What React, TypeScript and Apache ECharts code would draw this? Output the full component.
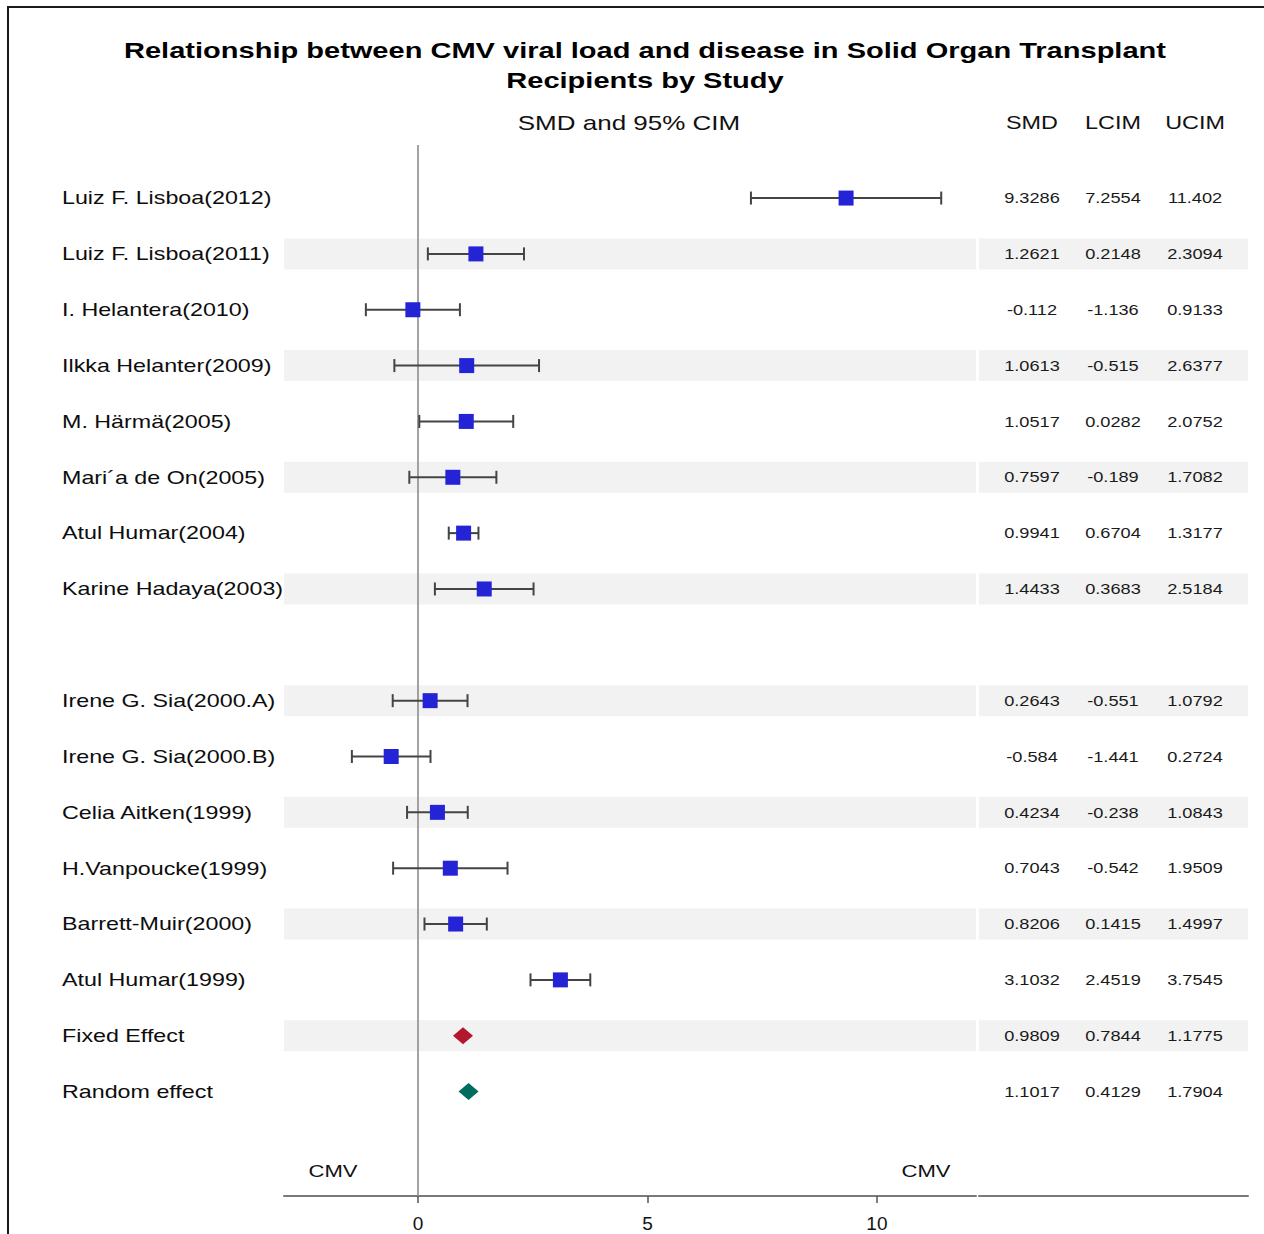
import React, { useEffect, useRef } from 'react';
import * as echarts from 'echarts';

// ---------- data ----------
const studies = [
  'Luiz F. Lisboa(2012)',
  'Luiz F. Lisboa(2011)',
  'I. Helantera(2010)',
  'Ilkka Helanter(2009)',
  'M. Härmä(2005)',
  'Mari´a de On(2005)',
  'Atul Humar(2004)',
  'Karine Hadaya(2003)',
  'Irene G. Sia(2000.A)',
  'Irene G. Sia(2000.B)',
  'Celia Aitken(1999)',
  'H.Vanpoucke(1999)',
  'Barrett-Muir(2000)',
  'Atul Humar(1999)',
];
const smd = [9.3286, 1.2621, -0.112, 1.0613, 1.0517, 0.7597, 0.9941, 1.4433, 0.2643, -0.584, 0.4234, 0.7043, 0.8206, 3.1032];
const lcim = [7.2554, 0.2148, -1.136, -0.515, 0.0282, -0.189, 0.6704, 0.3683, -0.551, -1.441, -0.238, -0.542, 0.1415, 2.4519];
const ucim = [11.402, 2.3094, 0.9133, 2.6377, 2.0752, 1.7082, 1.3177, 2.5184, 1.0792, 0.2724, 1.0843, 1.9509, 1.4997, 3.7545];
const studyRows = [0, 1, 2, 3, 4, 5, 6, 7, 9, 10, 11, 12, 13, 14];

const pooledNames = ['Fixed Effect', 'Random effect'];
const pooledSmd = [0.9809, 1.1017];
const pooledL = [0.7844, 0.4129];
const pooledU = [1.1775, 1.7904];
const pooledRows = [15, 16];
const pooledColors = ['#b3172e', '#006b5e'];

const stripeRows = [1, 3, 5, 7, 9, 11, 13, 15];
const xTicks = [0, 5, 10];
const tableHeaders = ['SMD', 'LCIM', 'UCIM'];
const titleText = 'Relationship between CMV viral load and disease in Solid Organ Transplant\nRecipients by Study';
const plotHeader = 'SMD and 95% CIM';
const sideLabel = 'CMV';

// ---------- layout / style constants ----------
const FONT = '"Liberation Sans", Arial, Helvetica, sans-serif';
const SX = 1.3; // horizontal stretch of the reference text
const Y_MIN = -0.95;
const Y_MAX = 17.87;
const X_MIN = -2.92;
const X_MAX = 12.16;
const COL_POS = [0.197, 0.498, 0.803];

const allNames = [...studies, ...pooledNames];
const allRows = [...studyRows, ...pooledRows];
const allSmd = [...smd, ...pooledSmd];
const allL = [...lcim, ...pooledL];
const allU = [...ucim, ...pooledU];

function textEl(x: number, y: number, text: string, size: number, align: string, opts: any = {}) {
  return {
    type: 'text',
    x,
    y,
    scaleX: opts.scaleX ?? SX,
    silent: true,
    style: {
      text,
      fill: opts.fill ?? '#111',
      fontSize: size,
      fontFamily: FONT,
      fontWeight: opts.fontWeight ?? 'normal',
      lineHeight: opts.lineHeight,
      align,
      verticalAlign: 'middle',
      textAlign: align,
      textVerticalAlign: 'middle',
    },
  };
}

export default function App() {
  const ref = useRef<HTMLDivElement>(null);

  useEffect(() => {
    if (!ref.current) return;
    const chart = echarts.init(ref.current, null, { renderer: 'svg' });

    const yAxisBase = {
      type: 'value',
      min: Y_MIN,
      max: Y_MAX,
      inverse: true,
      show: false,
      splitLine: { show: false },
    };

    const option: any = {
      animation: false,
      backgroundColor: '#ffffff',
      grid: [
        { left: 284, top: 145, width: 692, height: 1051 },
        { left: 979, top: 145, width: 269, height: 1051 },
      ],
      xAxis: [
        {
          type: 'value',
          gridIndex: 0,
          min: X_MIN,
          max: X_MAX,
          splitLine: { show: false },
          axisLine: { show: true, onZero: false, lineStyle: { color: '#7a7a7a', width: 2 } },
          axisTick: { show: true, customValues: xTicks, length: 7, lineStyle: { color: '#555', width: 1.5 } },
          axisLabel: {
            show: true,
            customValues: xTicks,
            margin: 18,
            fontSize: 19,
            color: '#111',
            fontFamily: FONT,
          },
        },
        {
          type: 'value',
          gridIndex: 1,
          min: 0,
          max: 1,
          splitLine: { show: false },
          axisLine: { show: true, onZero: false, lineStyle: { color: '#7a7a7a', width: 2 } },
          axisTick: { show: false },
          axisLabel: { show: false },
        },
      ],
      yAxis: [
        { ...yAxisBase, gridIndex: 0 },
        { ...yAxisBase, gridIndex: 1 },
      ],
      graphic: [
        {
          type: 'rect',
          silent: true,
          shape: { x: 8, y: 7, width: 1400, height: 1400 },
          style: { fill: 'none', stroke: '#1a1a1a', lineWidth: 2 },
        },
        textEl(645, 65, titleText, 22, 'center', { fontWeight: 'bold', lineHeight: 30, scaleX: 1.32, fill: '#000' }),
        textEl(629, 123, plotHeader, 20, 'center'),
        ...tableHeaders.map((h, k) => textEl(979 + COL_POS[k] * 269, 123, h, 18, 'center')),
        textEl(333, 1171, sideLabel, 17, 'center'),
        textEl(926, 1171, sideLabel, 17, 'center'),
      ],
      series: [
        // stripes in plot area
        {
          type: 'custom',
          xAxisIndex: 0,
          yAxisIndex: 0,
          z: 1,
          silent: true,
          data: stripeRows.map((r) => [0, r]),
          encode: { x: 0, y: 1 },
          renderItem: (params: any, api: any) => {
            const cs = params.coordSys;
            const y = api.coord([0, api.value(1)])[1];
            return {
              type: 'rect',
              shape: { x: cs.x, y: y - 15.5, width: cs.width, height: 31 },
              style: { fill: '#f2f2f2' },
            };
          },
        },
        // stripes in table area
        {
          type: 'custom',
          xAxisIndex: 1,
          yAxisIndex: 1,
          z: 1,
          silent: true,
          data: stripeRows.map((r) => [0.5, r]),
          encode: { x: 0, y: 1 },
          renderItem: (params: any, api: any) => {
            const cs = params.coordSys;
            const y = api.coord([0.5, api.value(1)])[1];
            return {
              type: 'rect',
              shape: { x: cs.x, y: y - 15.5, width: cs.width, height: 31 },
              style: { fill: '#f2f2f2' },
            };
          },
        },
        // zero reference line
        {
          type: 'custom',
          xAxisIndex: 0,
          yAxisIndex: 0,
          z: 2,
          silent: true,
          data: [[0, Y_MIN, Y_MAX]],
          encode: { x: 0, y: [1, 2] },
          renderItem: (params: any, api: any) => {
            const p1 = api.coord([api.value(0), api.value(1)]);
            const p2 = api.coord([api.value(0), api.value(2)]);
            return {
              type: 'line',
              shape: { x1: p1[0], y1: p1[1], x2: p2[0], y2: p2[1] },
              style: { stroke: '#8c8c8c', lineWidth: 1.6 },
            };
          },
        },
        // confidence intervals
        {
          type: 'custom',
          xAxisIndex: 0,
          yAxisIndex: 0,
          z: 3,
          silent: true,
          data: studyRows.map((r, i) => [lcim[i], r, ucim[i]]),
          encode: { x: [0, 2], y: 1 },
          renderItem: (params: any, api: any) => {
            const a = api.coord([api.value(0), api.value(1)]);
            const b = api.coord([api.value(2), api.value(1)]);
            const st = { stroke: '#444', lineWidth: 2 };
            return {
              type: 'group',
              children: [
                { type: 'line', shape: { x1: a[0], y1: a[1], x2: b[0], y2: b[1] }, style: st },
                { type: 'line', shape: { x1: a[0], y1: a[1] - 6.5, x2: a[0], y2: a[1] + 6.5 }, style: st },
                { type: 'line', shape: { x1: b[0], y1: b[1] - 6.5, x2: b[0], y2: b[1] + 6.5 }, style: st },
              ],
            };
          },
        },
        // point estimates
        {
          type: 'scatter',
          xAxisIndex: 0,
          yAxisIndex: 0,
          z: 4,
          silent: true,
          symbol: 'rect',
          symbolSize: 15,
          itemStyle: { color: '#2424d6', opacity: 1 },
          data: studyRows.map((r, i) => [smd[i], r]),
        },
        // pooled estimates
        {
          type: 'scatter',
          xAxisIndex: 0,
          yAxisIndex: 0,
          z: 4,
          silent: true,
          symbol: 'diamond',
          symbolSize: [20, 17],
          itemStyle: { opacity: 1 },
          data: pooledRows.map((r, i) => ({ value: [pooledSmd[i], r], itemStyle: { color: pooledColors[i], opacity: 1 } })),
        },
        // row labels
        {
          type: 'custom',
          xAxisIndex: 0,
          yAxisIndex: 0,
          z: 5,
          silent: true,
          clip: false,
          data: allRows.map((r) => [X_MIN, r]),
          encode: { x: 0, y: 1 },
          renderItem: (params: any, api: any) => {
            const y = api.coord([X_MIN, api.value(1)])[1];
            return textEl(62, y, allNames[params.dataIndex], 17.5, 'left', { scaleX: 1.33, fill: '#0d0d0d' });
          },
        },
        // table values
        {
          type: 'custom',
          xAxisIndex: 1,
          yAxisIndex: 1,
          z: 5,
          silent: true,
          clip: false,
          data: allRows.map((r) => [0.5, r]),
          encode: { x: 0, y: 1 },
          renderItem: (params: any, api: any) => {
            const i = params.dataIndex;
            const vals = [allSmd[i], allL[i], allU[i]];
            return {
              type: 'group',
              children: vals.map((v, k) => {
                const p = api.coord([COL_POS[k], api.value(1)]);
                return textEl(p[0], p[1], String(v), 14, 'center', { fill: '#1a1a1a' });
              }),
            };
          },
        },
      ],
    };

    chart.setOption(option);
    return () => chart.dispose();
  }, []);

  return (
    <div
      ref={ref}
      style={{ position: 'absolute', left: 0, top: 0, width: 1264, height: 1234, background: '#fff' }}
    />
  );
}
